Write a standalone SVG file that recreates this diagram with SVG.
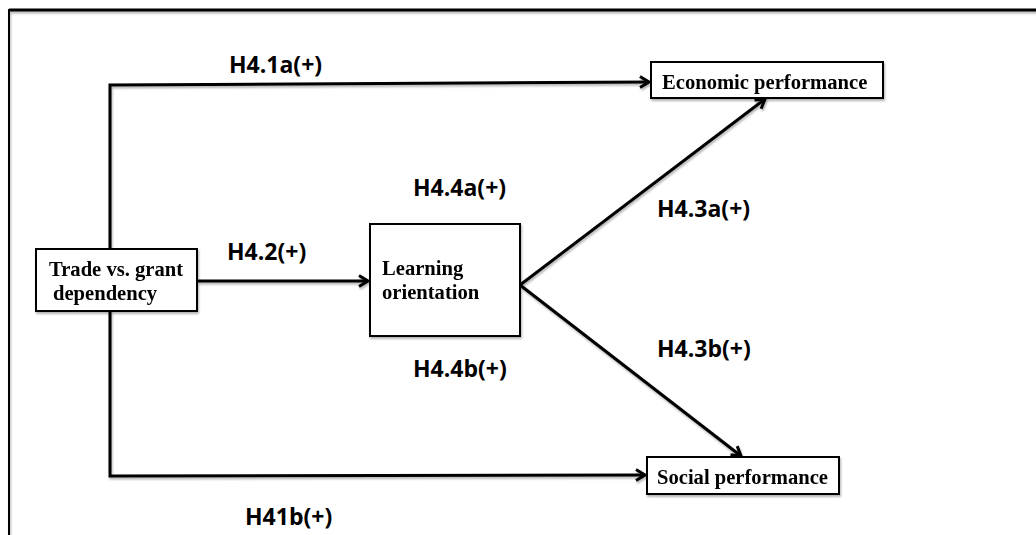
<svg xmlns="http://www.w3.org/2000/svg" width="1036" height="535" viewBox="0 0 1036 535">
<defs>
<marker id="arr" markerUnits="userSpaceOnUse" markerWidth="14" markerHeight="14" refX="11" refY="7" orient="auto">
<path d="M2,1.5 L11,7 L2,12.5" fill="none" stroke="#000" stroke-width="3" stroke-linejoin="miter"/>
</marker>
<filter id="sh" x="-5%" y="-5%" width="110%" height="120%">
<feGaussianBlur in="SourceAlpha" stdDeviation="1"/>
<feOffset dx="1" dy="2" result="b"/>
<feComponentTransfer><feFuncA type="linear" slope="0.3"/></feComponentTransfer>
<feMerge><feMergeNode/><feMergeNode in="SourceGraphic"/></feMerge>
</filter>
</defs>
<style>
.box{fill:#fff;stroke:#000;stroke-width:2}
.nt{font-family:"Liberation Serif","Times New Roman",serif;font-weight:bold;font-size:20.6px;fill:#000}
.lb{font-family:"Open Sans","Liberation Sans",sans-serif;font-weight:bold;font-size:23px;fill:#000}
.cn{fill:none;stroke:#000;stroke-width:3}
</style>
<g id="frame" filter="url(#sh)">
<line x1="9" y1="10" x2="1036" y2="10" stroke="#000" stroke-width="3"/>
<line x1="9" y1="9" x2="9" y2="535" stroke="#000" stroke-width="2"/>
</g>
<g id="connectors" filter="url(#sh)">
<polyline class="cn" points="110,249 110,85 649,82" marker-end="url(#arr)"/>
<polyline class="cn" points="110,311 110,476 645,475" marker-end="url(#arr)"/>
<line class="cn" x1="197" y1="281" x2="368" y2="281" marker-end="url(#arr)"/>
<line class="cn" x1="520" y1="285" x2="765" y2="99" marker-end="url(#arr)"/>
<line class="cn" x1="520" y1="285" x2="741" y2="456" marker-end="url(#arr)"/>
</g>
<g id="labels">
<text class="lb" x="229" y="73">H4.1a(+)</text>
<text class="lb" x="227" y="260">H4.2(+)</text>
<text class="lb" x="413" y="196">H4.4a(+)</text>
<text class="lb" x="413" y="377">H4.4b(+)</text>
<text class="lb" x="657" y="217">H4.3a(+)</text>
<text class="lb" x="657" y="357">H4.3b(+)</text>
<text class="lb" x="245" y="525">H41b(+)</text>
</g>
<g id="trade" filter="url(#sh)">
<rect class="box" x="36" y="249" width="161" height="62"/>
<text class="nt" x="49" y="276">Trade vs. grant</text>
<text class="nt" x="53" y="300">dependency</text>
</g>
<g id="learning" filter="url(#sh)">
<rect class="box" x="370" y="224" width="150" height="112"/>
<text class="nt" x="382" y="275">Learning</text>
<text class="nt" x="382" y="299">orientation</text>
</g>
<g id="economic" filter="url(#sh)">
<rect class="box" x="651" y="62" width="232" height="36"/>
<text class="nt" x="662" y="89">Economic performance</text>
</g>
<g id="social" filter="url(#sh)">
<rect class="box" x="647" y="457" width="192" height="37"/>
<text class="nt" x="657" y="484">Social performance</text>
</g>
</svg>
